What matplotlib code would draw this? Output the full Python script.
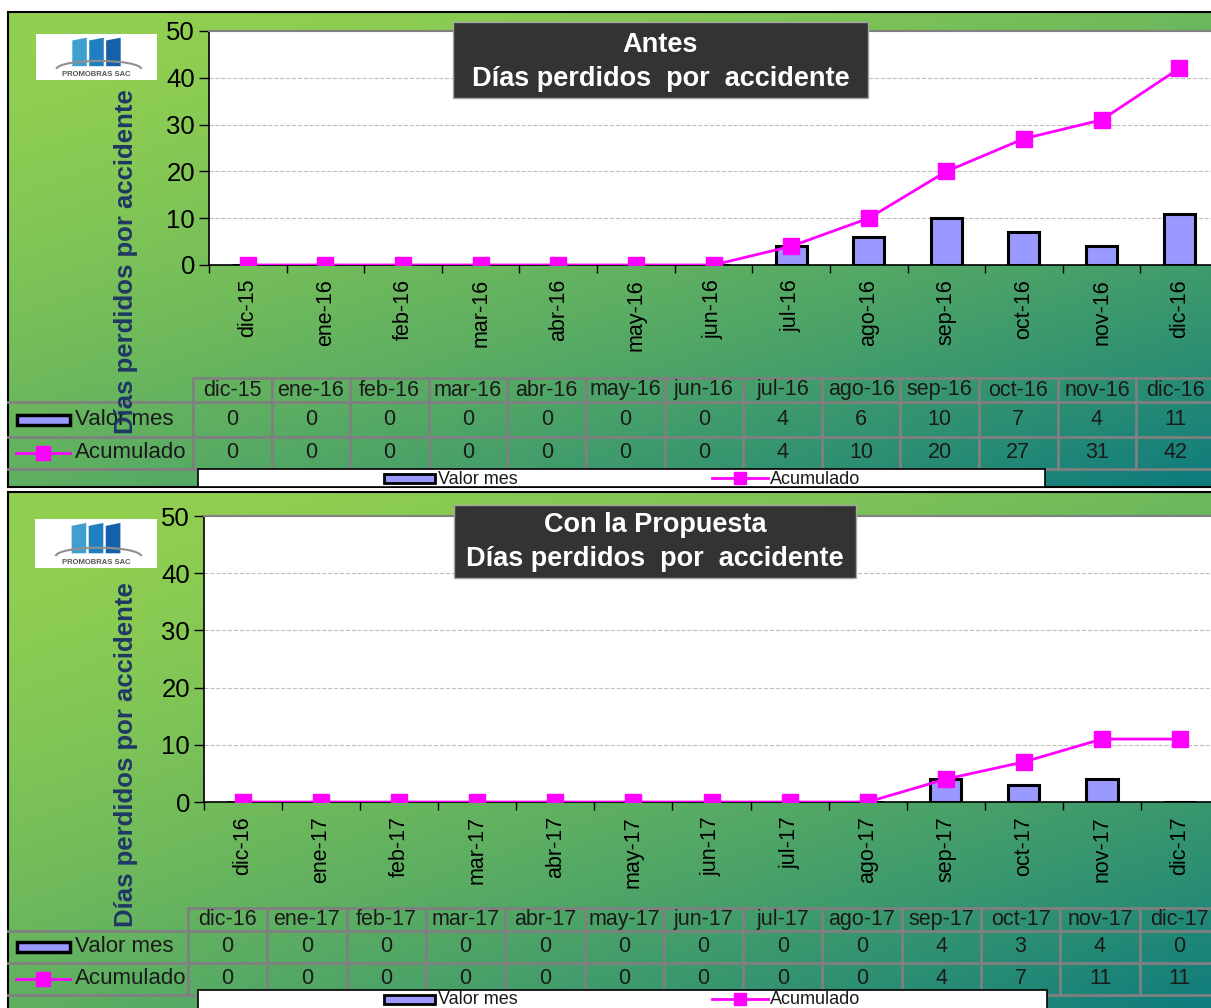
#Gráfico de días perdidos por accidente: Antes y Con la Propuesta
import numpy as np
import matplotlib
matplotlib.use('Agg')
import matplotlib.pyplot as plt
from matplotlib.patches import Rectangle, Polygon, Arc

plt.rcParams['font.family'] = ['Liberation Sans', 'DejaVu Sans']

#Datos
meses_antes = ['dic-15', 'ene-16', 'feb-16', 'mar-16', 'abr-16', 'may-16', 'jun-16',
               'jul-16', 'ago-16', 'sep-16', 'oct-16', 'nov-16', 'dic-16']
valor_antes = [0, 0, 0, 0, 0, 0, 0, 4, 6, 10, 7, 4, 11]
acum_antes = [0, 0, 0, 0, 0, 0, 0, 4, 10, 20, 27, 31, 42]

meses_prop = ['dic-16', 'ene-17', 'feb-17', 'mar-17', 'abr-17', 'may-17', 'jun-17',
              'jul-17', 'ago-17', 'sep-17', 'oct-17', 'nov-17', 'dic-17']
valor_prop = [0, 0, 0, 0, 0, 0, 0, 0, 0, 4, 3, 4, 0]
acum_prop = [0, 0, 0, 0, 0, 0, 0, 0, 0, 4, 7, 11, 11]

W, H = 1211, 1008
COL_BAR = '#9999FF'
COL_LINE = '#FF00FF'
COL_GRID = '#808080'
COL_YLAB = '#1F3864'

fig = plt.figure(figsize=(W / 100, H / 100), dpi=100)
fig.patch.set_facecolor('white')


def rect_fig(x0, y0, x1, y1):
    # pixeles (origen arriba-izquierda) -> fracción de figura
    return [x0 / W, 1 - y1 / H, (x1 - x0) / W, (y1 - y0) / H]


def fondo(x0, y0, x1, y1):
    ax = fig.add_axes(rect_fig(x0, y0, x1, y1), zorder=0)
    ny, nx = 200, 400
    xs = np.linspace(0, 1, nx)
    ys = np.linspace(0, 1, ny)
    X, Y = np.meshgrid(xs, ys)
    t = np.clip(0.45 * X + 0.55 * Y, 0, 1) ** 1.6
    c0 = np.array([146, 208, 80]) / 255
    c1 = np.array([12, 122, 126]) / 255
    img = c0[None, None, :] * (1 - t[..., None]) + c1[None, None, :] * t[..., None]
    ax.imshow(img, extent=[0, 1, 1, 0], aspect='auto', interpolation='bilinear')
    ax.set_xlim(0, 1)
    ax.set_ylim(1, 0)
    ax.set_xticks([])
    ax.set_yticks([])
    for s in ax.spines.values():
        s.set_color('black')
        s.set_linewidth(1.5)


def panel(g, meses, valores, acumulado, titulo):
    fondo(*g['panel'])

    #Área del gráfico
    ax = fig.add_axes(rect_fig(*g['plot']), zorder=1)
    x = np.arange(len(meses))
    ax.set_facecolor('white')
    ax.bar(x, valores, width=0.4, color=COL_BAR, edgecolor='black', linewidth=2.2, zorder=3)
    ax.plot(x, acumulado, color=COL_LINE, linewidth=2, marker='s', markersize=11, zorder=4)
    ax.set_xlim(-0.5, len(meses) - 0.5)
    ax.set_ylim(0, 50)
    ax.set_yticks([0, 10, 20, 30, 40, 50])
    ax.set_yticklabels(['0', '10', '20', '30', '40', '50'], fontsize=18.5)
    ax.tick_params(axis='y', length=7, width=1, direction='out', pad=3)
    ax.set_xticks(x)
    ax.set_xticklabels(meses, rotation=90, fontsize=15.5)
    ax.tick_params(axis='x', length=0, pad=10)
    ax.set_xticks(np.arange(len(meses) + 1) - 0.5, minor=True)
    ax.tick_params(axis='x', which='minor', length=6, width=1, direction='out')
    ax.grid(axis='y', color='#BFBFBF', linestyle='--', linewidth=0.8, zorder=0)
    ax.spines['right'].set_visible(False)
    ax.spines['top'].set_color('#808080')
    ax.spines['top'].set_linewidth(1.5)
    ax.spines['left'].set_linewidth(1.2)
    ax.spines['bottom'].set_linewidth(1.2)

    #Capa superior en pixeles
    ov = fig.add_axes([0, 0, 1, 1], zorder=2)
    ov.set_xlim(0, W)
    ov.set_ylim(H, 0)
    ov.axis('off')
    ov.patch.set_alpha(0)

    px0, py0, px1, py1 = g['panel']

    #Tabla de datos
    tx, cw = g['tabla_x'], g['col_w']
    r0, r1, r2, r3 = g['filas']
    n = len(meses)
    tx_end = tx + n * cw
    ov.plot([tx, tx_end], [r0, r0], color=COL_GRID, lw=2)
    for yy in (r1, r2, r3):
        ov.plot([px0, tx_end], [yy, yy], color=COL_GRID, lw=2)
    for i in range(n + 1):
        ov.plot([tx + i * cw] * 2, [r0, r3], color=COL_GRID, lw=2)
    for i, m in enumerate(meses):
        cx = tx + (i + 0.5) * cw
        ov.text(cx, (r0 + r1) / 2, m, ha='center', va='center', fontsize=15.5, color='#1a1a1a')
        ov.text(cx, (r1 + r2) / 2, str(valores[i]), ha='center', va='center', fontsize=15.5, color='#1a1a1a')
        ov.text(cx, (r2 + r3) / 2, str(acumulado[i]), ha='center', va='center', fontsize=15.5, color='#1a1a1a')

    #Claves de las filas
    ym1 = (r1 + r2) / 2
    ym2 = (r2 + r3) / 2
    ov.add_patch(Rectangle((17, ym1 - 5), 53, 10, facecolor=COL_BAR, edgecolor='black', lw=2.5))
    ov.text(75, ym1, 'Valor mes', ha='left', va='center', fontsize=16, color='#1a1a1a')
    ov.plot([16, 70], [ym2, ym2], color=COL_LINE, lw=2)
    ov.plot([43], [ym2], marker='s', color=COL_LINE, markersize=10)
    ov.text(75, ym2, 'Acumulado', ha='left', va='center', fontsize=16, color='#1a1a1a')

    #Leyenda
    lx0, ly0, lx1, ly1 = g['leyenda']
    ov.add_patch(Rectangle((lx0, ly0), lx1 - lx0, ly1 - ly0, facecolor='white',
                           edgecolor='black', lw=1.2, zorder=5))
    lyc = ly0 + 9
    ov.add_patch(Rectangle((384, lyc - 4.5), 51, 9, facecolor=COL_BAR, edgecolor='black', lw=2, zorder=6))
    ov.text(438, lyc + 1, 'Valor mes', ha='left', va='center', fontsize=13, color='#1a1a1a', zorder=6)
    ov.plot([712, 768], [lyc, lyc], color=COL_LINE, lw=2, zorder=6)
    ov.plot([740], [lyc], marker='s', color=COL_LINE, markersize=9, zorder=6)
    ov.text(770, lyc + 1, 'Acumulado', ha='left', va='center', fontsize=13, color='#1a1a1a', zorder=6)

    #Etiqueta del eje Y
    ov.text(g['ylab'][0], g['ylab'][1], 'Días perdidos por accidente', rotation=90,
            ha='center', va='center', fontsize=18.5, fontweight='bold', color=COL_YLAB, zorder=7)

    #Título
    bx0, by0, bx1, by1 = g['titulo']
    ov.add_patch(Rectangle((bx0, by0), bx1 - bx0, by1 - by0, facecolor='#333333',
                           edgecolor='#A6A6A6', lw=1, zorder=8))
    cxt = (bx0 + bx1) / 2
    hb = by1 - by0
    ov.text(cxt, by0 + hb * g['t_pos'][0], titulo, ha='center', va='center', fontsize=19.5,
            fontweight='bold', color='white', zorder=9)
    ov.text(cxt, by0 + hb * g['t_pos'][1], 'Días perdidos  por  accidente', ha='center', va='center',
            fontsize=19.5, fontweight='bold', color='white', zorder=9)

    #Logo
    gx0, gy0, gx1, gy1 = g['logo']
    ov.add_patch(Rectangle((gx0, gy0), gx1 - gx0, gy1 - gy0, facecolor='white', edgecolor='none', zorder=8))
    gw = gx1 - gx0
    gh = gy1 - gy0
    azules = ['#3FA0D0', '#1F7FC0', '#1560A8']
    for k in range(3):
        bx = gx0 + gw * (0.30 + k * 0.14)
        ov.add_patch(Polygon([(bx, gy0 + gh * 0.14), (bx + gw * 0.12, gy0 + gh * 0.08),
                              (bx + gw * 0.12, gy0 + gh * 0.70), (bx, gy0 + gh * 0.70)],
                             closed=True, facecolor=azules[k], edgecolor='none', zorder=9))
    ov.add_patch(Arc((gx0 + gw * 0.52, gy0 + gh * 0.76), gw * 0.7, gh * 0.35, theta1=180, theta2=360,
                     color='#909090', lw=1.5, zorder=10))
    ov.text(gx0 + gw * 0.5, gy0 + gh * 0.88, 'PROMOBRAS SAC', ha='center', va='center',
            fontsize=5.5, fontweight='bold', color='#555555', zorder=10)


geo_antes = {
    'panel': (8, 12, 1225, 487),
    'plot': (209, 31, 1218, 265),
    'titulo': (453, 22, 868, 98),
    't_pos': (0.30, 0.75),
    'logo': (36, 34, 157, 80),
    'ylab': (126, 262),
    'tabla_x': 193, 'col_w': 78.6,
    'filas': (378, 402, 437, 469),
    'leyenda': (198, 469, 1045, 487),
}
geo_prop = {
    'panel': (8, 492, 1225, 1015),
    'plot': (204, 516, 1219, 802),
    'titulo': (454, 505, 856, 578),
    't_pos': (0.27, 0.74),
    'logo': (35, 519, 157, 568),
    'ylab': (126, 755),
    'tabla_x': 188, 'col_w': 79.3,
    'filas': (908, 931, 963, 995),
    'leyenda': (198, 990, 1047, 1015),
}

panel(geo_antes, meses_antes, valor_antes, acum_antes, 'Antes')
panel(geo_prop, meses_prop, valor_prop, acum_prop, 'Con la Propuesta')

plt.savefig('out.png', dpi=100)
